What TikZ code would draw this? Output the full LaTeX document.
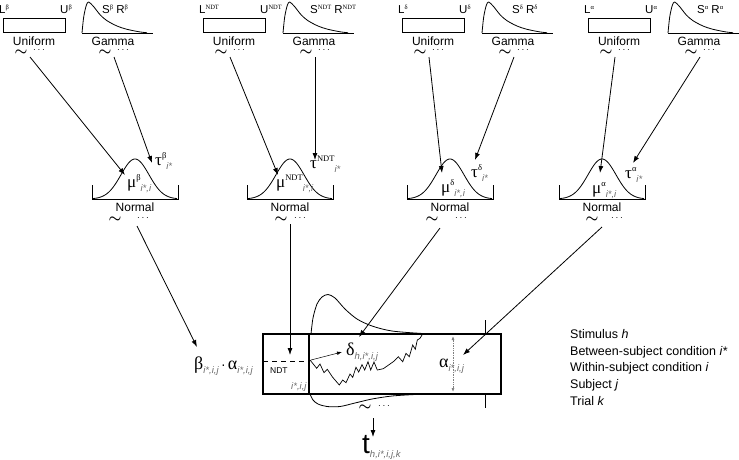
\documentclass[tikz,border=0pt]{standalone}
\usepackage{fontspec}
\setmainfont{Liberation Sans}
\newfontfamily\gr{Liberation Serif}
\usetikzlibrary{arrows.meta}
\definecolor{subc}{gray}{0.42}
\newcommand\fs[1]{\fontsize{#1}{#1}\selectfont}
\newcommand\tsp[1]{\raisebox{3.4pt}{\fs{6.5}\gr #1}}
\newcommand\spx[1]{\raisebox{6.5pt}{\fs{8.5}\gr #1}}
\newcommand\sbx[1]{\raisebox{-4pt}{\fs{9.5}\itshape\color{subc}#1}}
\newcommand\topgroup[5]{%
 \draw[ln] (#2,18) rectangle (#2+62,32);
 \node[lbl,anchor=base west] (#1L) at (#2-4,13) {L\tsp{#4}};
 \node[lbl,anchor=base west] (#1U) at (#2+57,13) {U\tsp{#4}};
 \node[dist] (#1Uni) at (#2+31,41) {Uniform};
 \node[tld] (#1Ut) at (#2+18,52.5) {$\sim$};
 \node[dts] (#1Ud) at (#2+36,50.5) {$\cdots$};
 \coordinate (#1Us) at (#2+27,57);
 \begin{scope}[shift={(#3,0)}]
  \draw[ln] (0,33) -- (71,33);
  \draw[ln] plot[smooth] coordinates {(0,33) (1.7,17) (4.3,5.3) (6.7,2) (11.7,6.7) (18.3,15) (25,20.7) (35,26) (45,29.3) (58.3,32) (65,32.7)};
 \end{scope}
 \node[lbl,anchor=base west] (#1SR) at (#3+#5,13) {S\tsp{#4} R\tsp{#4}};
 \node[dist] (#1Gam) at (#3+31,41) {Gamma};
 \node[tld] (#1Gt) at (#3+23,52.5) {$\sim$};
 \node[dts] (#1Gd) at (#3+41,50.5) {$\cdots$};
 \coordinate (#1Gs) at (#3+32,57);
}
\newcommand\normgroup[2]{%
 \draw[ln] (#2,185) -- (#2,199) -- (#2+86,199) -- (#2+86,185);
 \draw[ln] plot[domain=-42:42,samples=71,smooth] ({#2+43+\x},{199-40*exp(-(\x*\x)/392)});
 \node[dist] (#1Nor) at (#2+43,207.5) {Normal};
}
\begin{document}
\begin{tikzpicture}[x=1pt,y=-1pt,
 ln/.style={line width=0.8pt},
 arr/.style={line width=0.8pt,-{Latex[length=7pt,width=5pt]}},
 dist/.style={inner sep=0pt,font=\fs{12}},
 lbl/.style={inner sep=0pt,font=\fs{11.5}},
 tld/.style={inner sep=0pt,font=\fs{14}\boldmath},
 dts/.style={inner sep=0pt,font=\fs{10}},
 gsym/.style={inner sep=0pt,anchor=base west},
 leg/.style={inner sep=0pt,anchor=base west,font=\fs{12.5}},
 box/.style={line width=1.8pt}]
\useasboundingbox (0,0) rectangle (739,459);

% ---------- top row: priors ----------
\topgroup{b}{3}{82}{β}{20}
\topgroup{n}{203}{283}{NDT}{27}
\topgroup{d}{402}{482}{δ}{30}
\topgroup{a}{588}{668}{α}{29}

% ---------- second row: normals ----------
\normgroup{b}{92}
\normgroup{n}{247}
\normgroup{d}{407}
\normgroup{a}{559}

\node[gsym] (bMu) at (127,187) {{\fs{17}\gr μ}\spx{β}\sbx{i*,i}};
\node[gsym] (bTau) at (155,165) {{\fs{17}\gr τ}\spx{β}\sbx{i*}};
\node[gsym] (nMu) at (276,187) {{\fs{17}\gr μ}\spx{NDT}\sbx{i*,i}};
\node[gsym] (nTau) at (310,168) {{\fs{17}\gr τ}\spx{NDT}\sbx{i*}};
\node[gsym] (dMu) at (441,192) {{\fs{17}\gr μ}\spx{δ}\sbx{i*,i}};
\node[gsym] (dTau) at (471,177) {{\fs{17}\gr τ}\spx{δ}\sbx{i*}};
\node[gsym] (aMu) at (592,193) {{\fs{17}\gr μ}\spx{α}\sbx{i*,i}};
\node[gsym] (aTau) at (625,178) {{\fs{17}\gr τ}\spx{α}\sbx{i*}};

% tips of first-level arrows
\coordinate (bMuT) at (125,175);  \coordinate (bTauT) at (152,163);
\coordinate (nMuT) at (278,175);  \coordinate (nTauT) at (315,160);
\coordinate (dMuT) at (442,173);  \coordinate (dTauT) at (475,160);
\coordinate (aMuT) at (600,173);  \coordinate (aTauT) at (633,163);

\draw[arr] (bUs) -- (bMuT);  \draw[arr] (bGs) -- (bTauT);
\draw[arr] (nUs) -- (nMuT);  \draw[arr] (nGs) -- (nTauT);
\draw[arr] (dUs) -- (dMuT);  \draw[arr] (dGs) -- (dTauT);
\draw[arr] (aUs) -- (aMuT);  \draw[arr] (aGs) -- (aTauT);

% tildes under normals
\node[tld] (bNt) at (115,219.5) {$\sim$}; \node[dts] (bNd) at (143,218) {$\cdots$};
\node[tld] (nNt) at (281,219.5) {$\sim$}; \node[dts] (nNd) at (300,218) {$\cdots$};
\node[tld] (dNt) at (432,220) {$\sim$}; \node[dts] (dNd) at (461,218.5) {$\cdots$};
\node[tld] (aNt) at (592,220) {$\sim$}; \node[dts] (aNd) at (617,218.5) {$\cdots$};
\coordinate (bNs) at (137,226);
\coordinate (nNs) at (290,224);
\coordinate (dNs) at (440,228);
\coordinate (aNs) at (602,227);

% ---------- diffusion model ----------
\draw[ln] plot[smooth] coordinates {(311,334) (313,318) (317,304) (322,297) (328,294.5) (335,298) (345,309) (357,319) (372,326) (392,331) (423,333.5) (445,334)};
\draw[ln] plot[smooth] coordinates {(310,394) (313,400) (318,404) (327,406.5) (340,406.5) (355,403) (372,399) (392,396) (415,394.5) (430,394)};
\draw[ln] (485,320) -- (485,334);
\draw[ln] (485,394) -- (485,408);
\draw[box] (263,334) rectangle (501,394);
\draw[box] (309,334) -- (309,394);
\draw[ln,dash pattern=on 5pt off 4pt] (263,361) -- (309,361);
\draw[line width=0.7pt] plot coordinates {(310,360) (316.7,368.3) (320,364) (324,372.7) (327.3,369.3) (332.7,377.3) (339.3,385) (342.7,380) (346,382.7) (350,374) (352.7,377.3) (356,367.3) (358.7,372) (362,364.7) (364.7,370) (368,361.7) (370.7,370) (374,362) (377.3,370) (383.3,368.7) (393.3,361.7) (398.3,356.7) (402.7,361.7) (406,353.3) (409.3,356.7) (412.7,345) (415.3,349.3) (417.3,340) (420,338.3) (422,335)};
\draw[gray,densely dotted,line width=0.7pt,{Latex[length=4pt,width=3pt]}-{Latex[length=4pt,width=3pt]}] (453,336) -- (453,392);

\coordinate (ws) at (311,360);
\coordinate (dlT) at (342,352);
\draw[line width=0.5pt,-{Latex[length=5pt,width=3.5pt]}] (ws) -- (dlT);

\node[gsym] (betaL) at (194,369) {{\fs{18}\gr β}\sbx{i*,i,j}{\fs{14}\,·\,}{\fs{18}\gr α}\sbx{i*,i,j}};
\node[gsym,font=\fs{8.5}] (ndtL) at (270,373) {NDT};
\node[gsym] (ndtS) at (291,385) {\sbx{i*,i,j}};
\node[gsym] (deltaL) at (346,355) {{\fs{18}\gr δ}\sbx{h,i*,i,j}};
\node[gsym] (alphaL) at (439,367) {{\fs{18}\gr α}\sbx{i*,i,j}};

\coordinate (betaT) at (197,347);
\coordinate (ndtT) at (290,355);
\coordinate (deltaT) at (359,337);
\coordinate (alphaT) at (463,355);
\draw[arr] (bNs) -- (betaT);
\draw[arr] (nNs) -- (ndtT);
\draw[arr] (dNs) -- (deltaT);
\draw[arr] (aNs) -- (alphaT);

% output
\node[tld] (oT) at (365,408) {$\sim$};
\node[dts] (oD) at (384,406.5) {$\cdots$};
\coordinate (oS) at (373,418);
\coordinate (tT) at (373,437);
\draw[arr] (oS) -- (tT);
\node[gsym] (tL) at (362,453) {{\fs{28}t}\sbx{h,i*,i,j,k}};

% legend
\node[leg] (lg1) at (570,338.5) {Stimulus \textit{h}};
\node[leg] (lg2) at (570,355) {Between-subject condition \textit{i*}};
\node[leg] (lg3) at (570,371.7) {Within-subject condition \textit{i}};
\node[leg] (lg4) at (570,388.3) {Subject \textit{j}};
\node[leg] (lg5) at (570,405) {Trial \textit{k}};
\end{tikzpicture}
\end{document}
